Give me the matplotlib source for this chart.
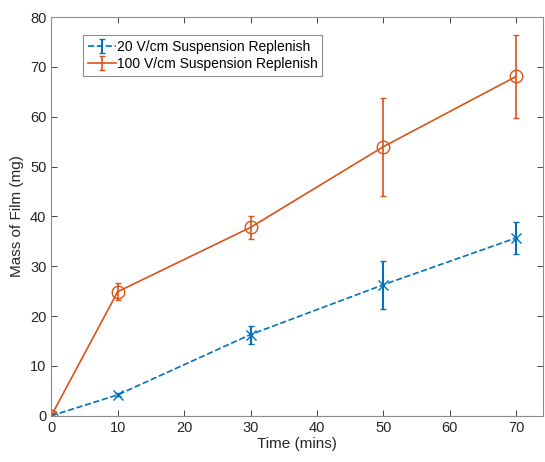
import matplotlib
matplotlib.use("Agg")
import matplotlib.pyplot as plt
from matplotlib.lines import Line2D

plt.rcParams['font.family'] = ['Liberation Sans', 'DejaVu Sans']

time = [0, 10, 30, 50, 70]
mass_20 = [0, 4.2, 16.3, 26.3, 35.7]
err_20 = [0.2, 0.3, 1.8, 4.8, 3.2]
mass_100 = [0, 24.9, 37.8, 54.0, 68.1]
err_100 = [0.3, 1.7, 2.3, 9.8, 8.4]

blue = '#0072BD'
orange = '#D95319'
axcol = '#262626'

fig = plt.figure(figsize=(5.45, 4.62), dpi=100)
ax = fig.add_axes([0.094, 0.10, 0.902, 0.863])

ax.errorbar(time, mass_20, yerr=err_20, color=blue, ls='--', lw=1.2, marker='x',
            ms=7, mew=1, capsize=2.5, elinewidth=1.5, capthick=1.5,
            label='20 V/cm Suspension Replenish')
ax.errorbar(time, mass_100, yerr=err_100, color=orange, ls='-', lw=1.2, marker='o',
            ms=9, mfc='none', mew=1, capsize=2.5, elinewidth=1.2, capthick=1.2,
            label='100 V/cm Suspension Replenish')

ax.set_xlim(0, 74)
ax.set_ylim(0, 80)
ax.set_xticks(range(0, 71, 10))
ax.set_yticks(range(0, 81, 10))
ax.set_xlabel('Time (mins)', fontsize=11, color=axcol, labelpad=2)
ax.set_ylabel('Mass of Film (mg)', fontsize=11, color=axcol, labelpad=4)
ax.tick_params(direction='in', top=True, right=True, labelsize=10.5, colors=axcol,
               length=4, width=0.6)
for s in ax.spines.values():
    s.set_color('#8c8c8c')
    s.set_linewidth(0.8)

leg = ax.legend(loc='upper left', bbox_to_anchor=(0.065, 0.955), fontsize=10,
                fancybox=False, framealpha=1, edgecolor='#8c8c8c',
                handlelength=2.0, handletextpad=0.05, borderpad=0.35,
                labelspacing=0.2, borderaxespad=0)
leg.get_frame().set_linewidth(0.8)
# MATLAB style legend: errorbar icon only, no data marker
for ln in leg.findobj(Line2D):
    if ln.get_marker() in ('x', 'o'):
        ln.set_marker('None')

fig.savefig('out.png', dpi=100)
